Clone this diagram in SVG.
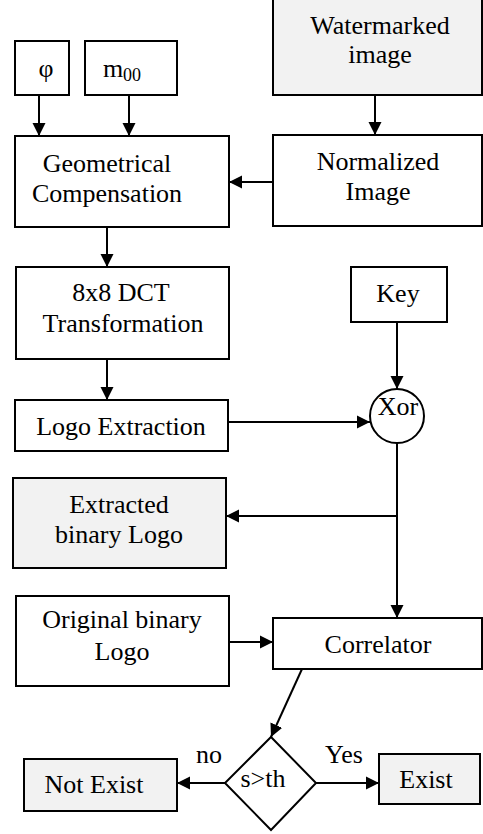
<svg xmlns="http://www.w3.org/2000/svg" width="483" height="834" viewBox="0 0 483 834">
  <style>
    .box { fill: #ffffff; stroke: #000000; stroke-width: 2; }
    .shade { fill: #f2f2f2; }
    .lbl { font-family: 'Liberation Serif', 'Times New Roman', Times, serif; font-size: 26px; fill: #000000; text-anchor: middle; }
    .edge { fill: none; stroke: #000000; stroke-width: 2; marker-end: url(#arrow); }
  </style>
  <defs>
    <marker id="arrow" markerUnits="userSpaceOnUse" markerWidth="14" markerHeight="14" viewBox="0 0 14 14" refX="13" refY="7" orient="auto">
      <path d="M0,0.5 L13,7 L0,13.5 z" fill="#000000"/>
    </marker>
  </defs>

  <rect width="483" height="834" fill="#ffffff"/>

  <g id="phi">
    <rect class="box" x="15" y="41" width="54" height="54"/>
    <text class="lbl" x="46" y="77">φ</text>
  </g>
  <g id="m00">
    <rect class="box" x="85" y="41" width="92" height="54"/>
    <text class="lbl" x="122" y="77">m<tspan font-size="18" dy="4">00</tspan></text>
  </g>
  <g id="watermarked">
    <rect class="box shade" x="273" y="-2" width="209" height="97"/>
    <text class="lbl" x="380" y="34">Watermarked</text>
    <text class="lbl" x="380" y="63">image</text>
  </g>
  <g id="geometrical">
    <rect class="box" x="15" y="136" width="214" height="91"/>
    <text class="lbl" x="107" y="172">Geometrical</text>
    <text class="lbl" x="107" y="202">Compensation</text>
  </g>
  <g id="normalized">
    <rect class="box" x="273" y="135" width="209" height="91"/>
    <text class="lbl" x="378" y="170">Normalized</text>
    <text class="lbl" x="378" y="200">Image</text>
  </g>
  <g id="dct">
    <rect class="box" x="16" y="267" width="213" height="92"/>
    <text class="lbl" x="121" y="301">8x8 DCT</text>
    <text class="lbl" x="123" y="332">Transformation</text>
  </g>
  <g id="key">
    <rect class="box" x="351" y="267" width="96" height="55"/>
    <text class="lbl" x="398" y="302">Key</text>
  </g>
  <g id="xor">
    <circle class="box" cx="397" cy="416" r="27"/>
    <text class="lbl" x="398" y="415">Xor</text>
  </g>
  <g id="logo-extraction">
    <rect class="box" x="15" y="400" width="213" height="51"/>
    <text class="lbl" x="121" y="435">Logo Extraction</text>
  </g>
  <g id="extracted-logo">
    <rect class="box shade" x="13" y="478" width="213" height="90"/>
    <text class="lbl" x="119" y="513">Extracted</text>
    <text class="lbl" x="119" y="543">binary Logo</text>
  </g>
  <g id="original-logo">
    <rect class="box" x="16" y="596" width="213" height="90"/>
    <text class="lbl" x="122" y="628">Original binary</text>
    <text class="lbl" x="122" y="660">Logo</text>
  </g>
  <g id="correlator">
    <rect class="box" x="273" y="618" width="209" height="51"/>
    <text class="lbl" x="378" y="653">Correlator</text>
  </g>
  <g id="decision">
    <path class="box" d="M271,737 L316,783 L271,830 L225,783 z"/>
    <text class="lbl" x="263" y="787" font-size="24">s&gt;th</text>
  </g>
  <g id="not-exist">
    <rect class="box shade" x="24" y="759" width="153" height="52"/>
    <text class="lbl" x="94" y="793">Not Exist</text>
  </g>
  <g id="exist">
    <rect class="box shade" x="379" y="754" width="101" height="50"/>
    <text class="lbl" x="426" y="788">Exist</text>
  </g>

  <g id="connectors">
    <line class="edge" x1="39" y1="95" x2="39" y2="136"/>
    <line class="edge" x1="129" y1="95" x2="129" y2="136"/>
    <line class="edge" x1="375" y1="95" x2="375" y2="135"/>
    <line class="edge" x1="273" y1="182" x2="229" y2="182"/>
    <line class="edge" x1="107" y1="227" x2="107" y2="267"/>
    <line class="edge" x1="107" y1="359" x2="107" y2="400"/>
    <line class="edge" x1="397" y1="322" x2="397" y2="389"/>
    <line class="edge" x1="228" y1="422" x2="370" y2="422"/>
    <line class="edge" x1="397" y1="443" x2="397" y2="618"/>
    <line class="edge" x1="397" y1="516" x2="226" y2="516"/>
    <line class="edge" x1="229" y1="642" x2="273" y2="642"/>
    <line class="edge" x1="302" y1="669" x2="271" y2="737"/>
    <line class="edge" x1="225" y1="783" x2="177" y2="783"/>
    <line class="edge" x1="316" y1="783" x2="379" y2="783"/>
    <text class="lbl" x="209" y="763">no</text>
    <text class="lbl" x="344" y="763">Yes</text>
  </g>
</svg>
